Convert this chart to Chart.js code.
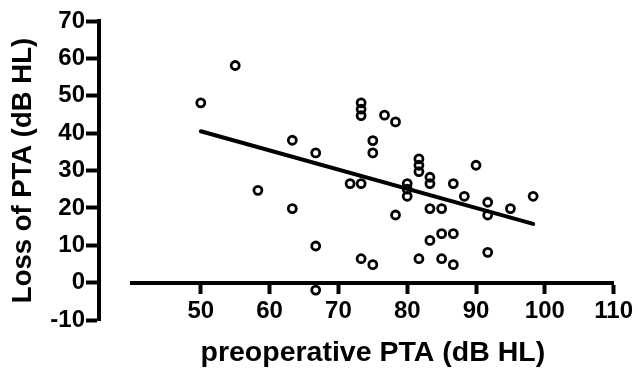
<!DOCTYPE html>
<html>
<head>
<meta charset="utf-8">
<script src="https://cdn.jsdelivr.net/npm/chart.js@4.4.1/dist/chart.umd.min.js"></script>
<style>
  html, body { margin: 0; padding: 0; background: #fff; }
  #chart { display: block; }
</style>
</head>
<body>
<canvas id="chart" width="638" height="370"></canvas>
<script>
// preoperative PTA (dB HL), one entry per ear
const preopPta = [
  50, 55, 58.3, 63.3, 63.3, 66.7, 66.7, 66.7, 71.7, 73.3,
  73.3, 73.3, 73.3, 73.3, 75, 75, 75, 76.7, 78.3, 78.3,
  80, 80, 80, 81.7, 81.7, 81.7, 81.7, 83.3, 83.3, 83.3,
  83.3, 85, 85, 85, 86.7, 86.7, 86.7, 88.3, 90, 91.7,
  91.7, 91.7, 95, 98.3
];
// loss of PTA (dB HL), same order as preopPta
const ptaLoss = [
  48.1, 58.1, 24.7, 38.1, 19.8, 34.7, 9.8, -2, 26.5, 48.1,
  46.4, 44.7, 26.5, 6.4, 38, 34.7, 4.8, 44.8, 43, 18.1,
  26.5, 25, 23.1, 33.1, 31.4, 29.7, 6.4, 28.2, 26.5, 19.8,
  11.3, 19.8, 13.1, 6.4, 26.5, 13.1, 4.8, 23.1, 31.4, 21.5,
  18.1, 8.1, 19.8, 23.1
];
// regression line, read at its two ends
const fitX = [50, 98.3];
const fitY = [40.5, 15.7];

const xTicks = [50, 60, 70, 80, 90, 100, 110];

const fontFamily = '"Liberation Sans", Arial, sans-serif';
const tickFont = { family: fontFamily, size: 24, weight: 'bold' };

// empty box so the x axis starts a bit right of the y axis (prism look)
const axisGap = {
  id: 'axisGap',
  beforeInit(chart) {
    Chart.layouts.addBox(chart, {
      position: 'left',
      weight: -10,
      options: {},
      isHorizontal: () => false,
      update(maxWidth, maxHeight) {
        this.width = 33;
        this.height = maxHeight;
      },
      draw() {}
    });
  }
};

const points = preopPta.map((x, i) => ({ x: x, y: ptaLoss[i] }));
const fitLine = fitX.map((x, i) => ({ x: x, y: fitY[i] }));

new Chart(document.getElementById('chart'), {
  type: 'scatter',
  data: {
    datasets: [
      {
        type: 'line',
        data: fitLine,
        borderColor: '#000',
        borderWidth: 4,
        borderCapStyle: 'round',
        pointRadius: 0,
        fill: false
      },
      {
        data: points,
        pointStyle: 'circle',
        pointRadius: 4,
        pointBorderWidth: 2.8,
        borderColor: '#000',
        backgroundColor: 'rgba(0,0,0,0)'
      }
    ]
  },
  options: {
    responsive: false,
    animation: false,
    layout: { padding: { left: 0, top: 21, right: 23, bottom: 50 } },
    plugins: {
      legend: { display: false },
      tooltip: { enabled: false }
    },
    scales: {
      x: {
        type: 'linear',
        position: { y: 0 },
        min: 40,
        max: 110,
        afterBuildTicks(axis) {
          axis.ticks = xTicks.map(v => ({ value: v }));
        },
        border: { color: '#000', width: 4 },
        grid: { drawOnChartArea: false, tickLength: 9, tickWidth: 4, tickColor: '#000' },
        ticks: { color: '#000', font: tickFont, padding: 5, maxRotation: 0, autoSkip: false },
        title: {
          display: true,
          text: 'preoperative PTA (dB HL)',
          color: '#000',
          font: { family: fontFamily, size: 28.5, weight: 'bold' },
          padding: { top: 6, bottom: 0 }
        }
      },
      y: {
        min: -10,
        max: 70,
        afterFit(scale) { scale.width = 99; },
        border: { color: '#000', width: 4 },
        grid: { drawOnChartArea: false, tickLength: 13, tickWidth: 4, tickColor: '#000' },
        ticks: { stepSize: 10, color: '#000', font: tickFont, padding: 1 },
        title: {
          display: true,
          text: 'Loss of PTA (dB HL)',
          color: '#000',
          font: { family: fontFamily, size: 27.5, weight: 'bold' },
          padding: { top: 6.5, bottom: 0 }
        }
      }
    }
  },
  plugins: [axisGap]
});
</script>
</body>
</html>
